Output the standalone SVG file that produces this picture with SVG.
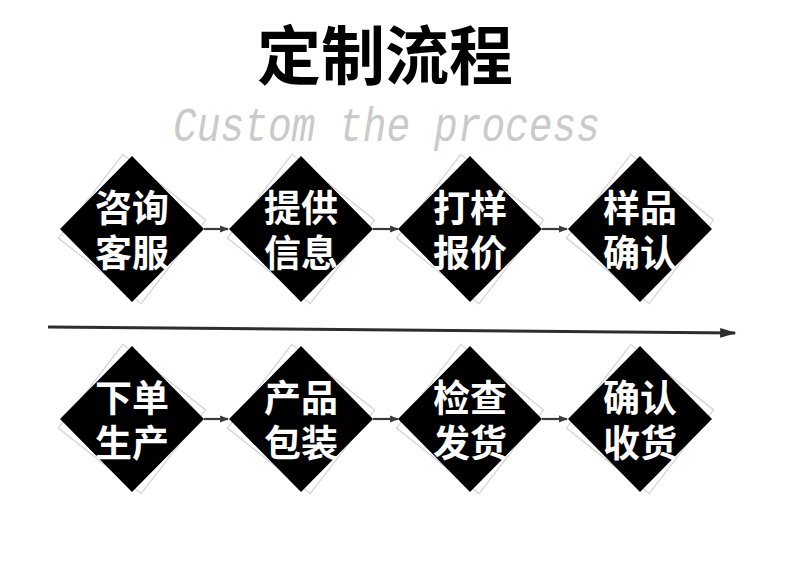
<svg xmlns="http://www.w3.org/2000/svg" width="790" height="574" viewBox="0 0 790 574">
<defs>
<style>
.bg{fill:#fff}
.title{font-family:"Noto Sans CJK SC","Noto Sans",sans-serif;font-weight:700;font-size:64px;fill:#000;text-anchor:middle}
.sub{font-family:"Liberation Mono",monospace;font-style:italic;font-size:49px;fill:#cacaca}
.dia{fill:#000}
.shadow{fill:none;stroke:#d4d4d4;stroke-width:1.2}
.lbl{font-family:"Noto Sans CJK SC","Noto Sans",sans-serif;font-weight:700;font-size:37px;fill:#fff;text-anchor:middle}
.conn{stroke:#3a3a3a;stroke-width:2.2;fill:none}
.main{stroke:#2e2e2e;stroke-width:3;fill:none}
</style>
<polygon id="d" points="0,-73 72,0 0,73 -72,0"/>
<marker id="ah" viewBox="0 0 10 10" refX="9" refY="5" markerWidth="4" markerHeight="4" orient="auto" markerUnits="strokeWidth"><path d="M0,1 L10,5 L0,9 z" fill="#3a3a3a"/></marker>
<marker id="ahm" viewBox="0 0 10 10" refX="9" refY="5" markerWidth="5.5" markerHeight="3.2" orient="auto" markerUnits="strokeWidth" preserveAspectRatio="none"><path d="M0,0 L10,5 L0,10 z" fill="#2e2e2e"/></marker>
</defs>
<rect class="bg" width="790" height="574"/>
<text class="title" x="385" y="79">定制流程</text>
<text class="sub" x="173" y="141" textLength="427" lengthAdjust="spacingAndGlyphs">Custom the process</text>

<g id="connectors">
<line class="main" x1="48" y1="327" x2="735" y2="333" marker-end="url(#ahm)"/>
<line class="conn" x1="204" y1="229" x2="228" y2="229" marker-end="url(#ah)"/>
<line class="conn" x1="373" y1="229" x2="398" y2="229" marker-end="url(#ah)"/>
<line class="conn" x1="542" y1="229" x2="567" y2="229" marker-end="url(#ah)"/>
<line class="conn" x1="204" y1="419" x2="228" y2="419" marker-end="url(#ah)"/>
<line class="conn" x1="373" y1="419" x2="398" y2="419" marker-end="url(#ah)"/>
<line class="conn" x1="542" y1="419" x2="567" y2="419" marker-end="url(#ah)"/>
</g>

<g id="n1" transform="translate(132,229)">
<use href="#d" class="shadow" transform="rotate(-7) scale(1.03)"/>
<use href="#d" class="dia"/>
<text class="lbl"><tspan x="0" y="-7">咨询</tspan><tspan x="0" y="38">客服</tspan></text>
</g>
<g id="n2" transform="translate(301,229)">
<use href="#d" class="shadow" transform="rotate(-7) scale(1.03)"/>
<use href="#d" class="dia"/>
<text class="lbl"><tspan x="0" y="-7">提供</tspan><tspan x="0" y="38">信息</tspan></text>
</g>
<g id="n3" transform="translate(470,229)">
<use href="#d" class="shadow" transform="rotate(-7) scale(1.03)"/>
<use href="#d" class="dia"/>
<text class="lbl"><tspan x="0" y="-7">打样</tspan><tspan x="0" y="38">报价</tspan></text>
</g>
<g id="n4" transform="translate(640,229)">
<use href="#d" class="shadow" transform="rotate(-7) scale(1.03)"/>
<use href="#d" class="dia"/>
<text class="lbl"><tspan x="0" y="-7">样品</tspan><tspan x="0" y="38">确认</tspan></text>
</g>
<g id="n5" transform="translate(132,419)">
<use href="#d" class="shadow" transform="rotate(-7) scale(1.03)"/>
<use href="#d" class="dia"/>
<text class="lbl"><tspan x="0" y="-7">下单</tspan><tspan x="0" y="38">生产</tspan></text>
</g>
<g id="n6" transform="translate(301,419)">
<use href="#d" class="shadow" transform="rotate(-7) scale(1.03)"/>
<use href="#d" class="dia"/>
<text class="lbl"><tspan x="0" y="-7">产品</tspan><tspan x="0" y="38">包装</tspan></text>
</g>
<g id="n7" transform="translate(470,419)">
<use href="#d" class="shadow" transform="rotate(-7) scale(1.03)"/>
<use href="#d" class="dia"/>
<text class="lbl"><tspan x="0" y="-7">检查</tspan><tspan x="0" y="38">发货</tspan></text>
</g>
<g id="n8" transform="translate(640,419)">
<use href="#d" class="shadow" transform="rotate(-7) scale(1.03)"/>
<use href="#d" class="dia"/>
<text class="lbl"><tspan x="0" y="-7">确认</tspan><tspan x="0" y="38">收货</tspan></text>
</g>
</svg>
